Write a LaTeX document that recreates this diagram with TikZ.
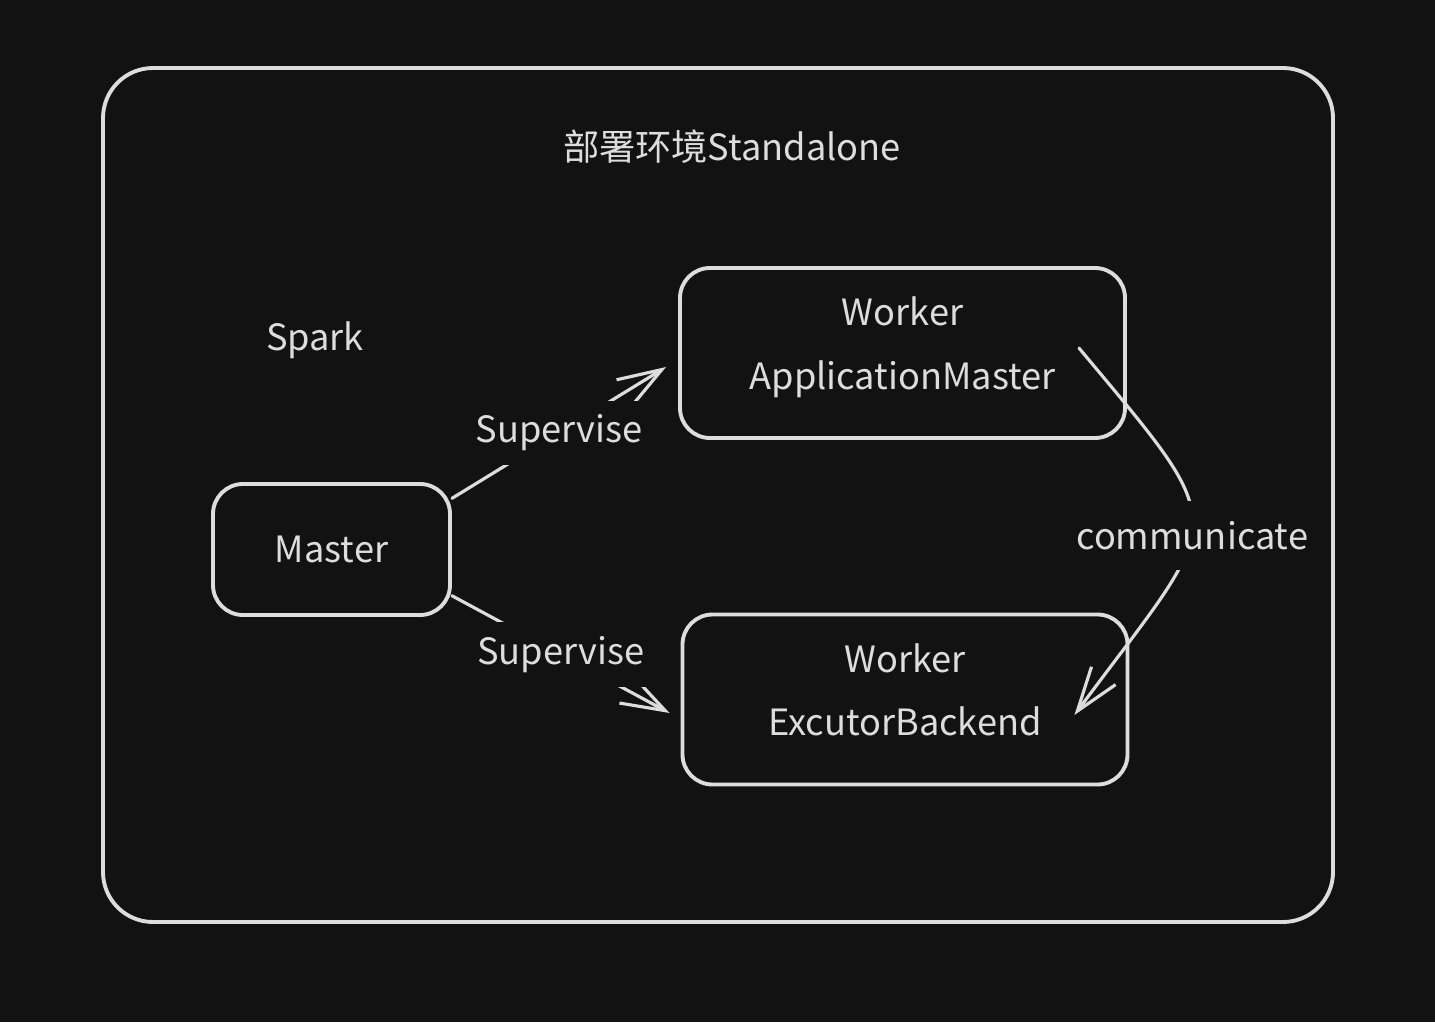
\documentclass[tikz,border=0pt]{standalone}
\usepackage{fontspec}
\setmainfont{Noto Sans CJK SC}
\usepackage{tikz}
\usetikzlibrary{positioning,calc,arrows.meta}
\definecolor{bgdark}{HTML}{121212}
\definecolor{inkgray}{HTML}{DDDDDD}

\begin{document}
\begin{tikzpicture}[
  box/.style={draw=inkgray, line width=1.1pt, rounded corners=0.3cm, text=inkgray, align=center, font=\fontsize{10.3}{18}\selectfont},
  arr/.style={draw=inkgray, line width=0.9pt, line cap=round, -{Straight Barb[length=0.44cm,width=0.3cm,line width=0.9pt]}},
  lbl/.style={fill=bgdark, text=inkgray, inner sep=0.14cm, font=\fontsize{10.3}{12}\selectfont}
]
\fill[bgdark] (0,0) rectangle (14.35,-10.22);
\useasboundingbox (0,0) rectangle (14.35,-10.22);

% outer frame and its texts
\node[box, rounded corners=0.5cm, minimum width=12.30cm, minimum height=8.54cm] (env) at (7.18,-4.95) {};
\node[text=inkgray, font=\fontsize{10.3}{12}\selectfont] (title) at (7.32,-1.47) {部署环境Standalone};
\node[text=inkgray, font=\fontsize{10.3}{12}\selectfont] (spark) at (3.15,-3.40) {Spark};

\node[box, minimum width=2.37cm, minimum height=1.31cm] (master) at (3.315,-5.495) {Master};

% the two workers
\foreach \name/\x/\y/\role in {appm/9.025/-3.53/ApplicationMaster, exec/9.05/-6.995/ExcutorBackend} {
  \node[box, text depth=0.2cm, minimum width=4.45cm, minimum height=1.70cm] (\name) at (\x,\y) {Worker\\\role};
}

\draw[arr] (master.23) -- node[lbl] {Supervise} ([xshift=-0.12cm,yshift=-0.14cm]appm.west);
\draw[arr] (master.-21) -- node[lbl] {Supervise} ([xshift=-0.11cm,yshift=-0.135cm]exec.west);

\draw[arr] ([xshift=-0.48cm,yshift=0.05cm]appm.east) .. controls +(1.57,-1.88) and +(1.51,2.04) ..
  node[lbl, inner ysep=0.2cm, yshift=-0.1cm] {communicate} ([xshift=-0.55cm,yshift=-0.155cm]exec.east);
\end{tikzpicture}
\end{document}
